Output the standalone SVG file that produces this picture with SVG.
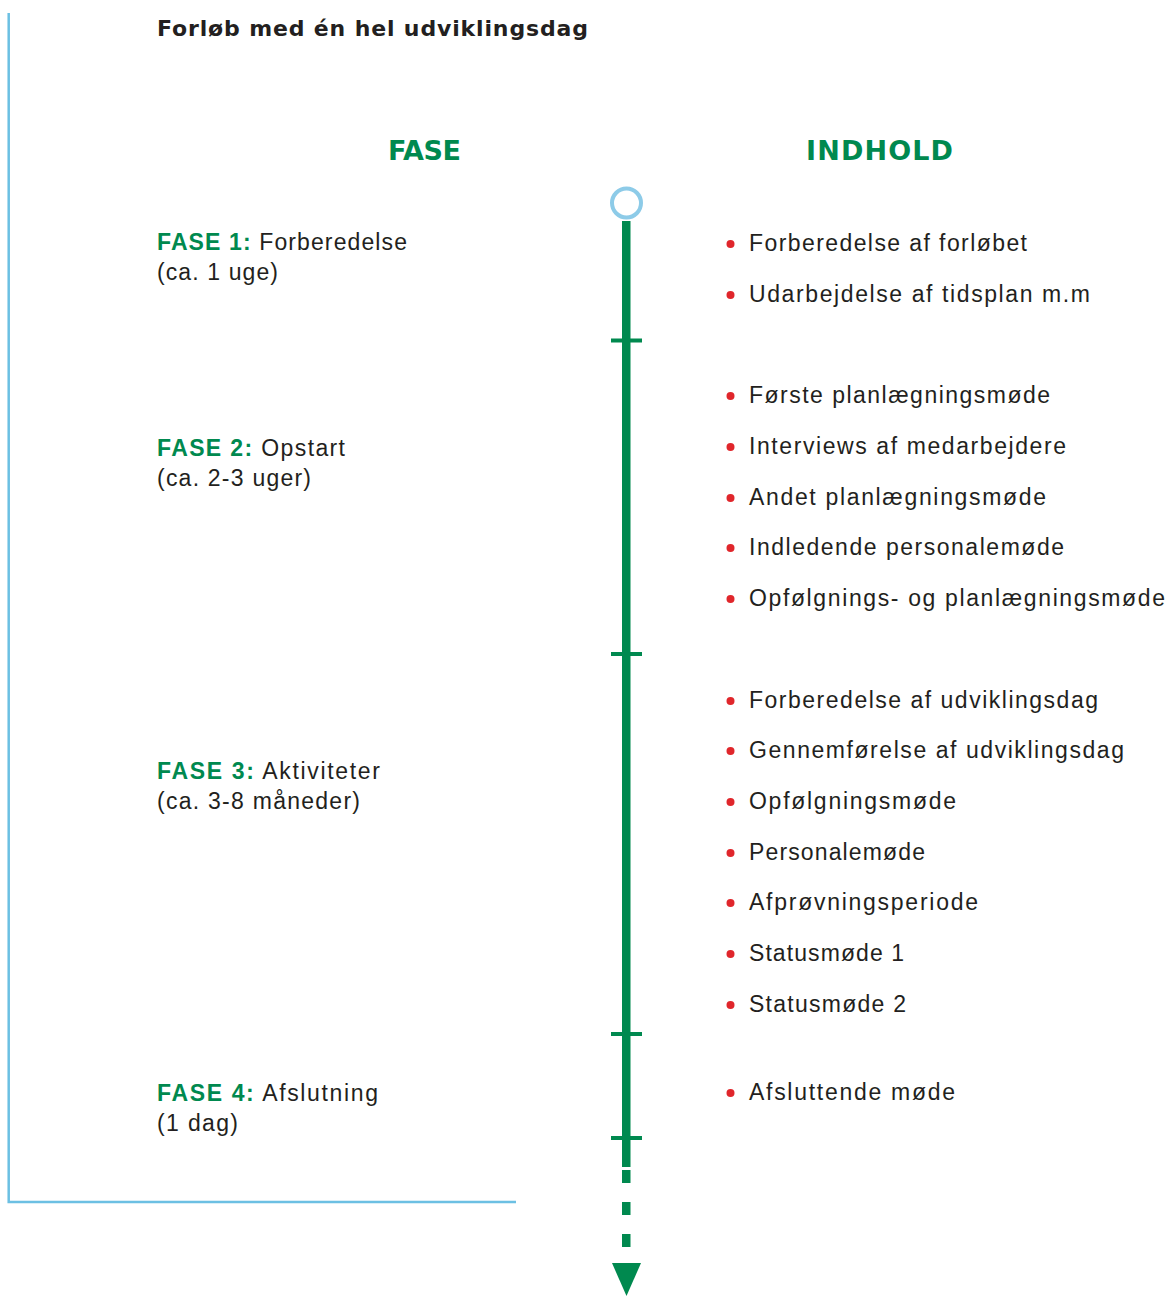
<svg xmlns="http://www.w3.org/2000/svg" width="1171" height="1296" viewBox="0 0 1171 1296">
<style>
.t{font-family:"Liberation Sans","Open Sans",sans-serif;font-size:23px;fill:#231F20}
.b{font-weight:bold;fill:#00894F}
.h{font-family:"DejaVu Sans","Liberation Sans",sans-serif;font-size:27px;font-weight:bold;fill:#00894F}
.ti{font-family:"DejaVu Sans","Liberation Sans",sans-serif;font-size:22px;font-weight:bold;fill:#231F20}
.dot{fill:#E0262B}
.g{fill:#00894F}
</style>
<rect width="1171" height="1296" fill="#ffffff"/>
<g id="frame">
<path d="M8.7 13 V1202 H516" fill="none" stroke="#6CC0E3" stroke-width="2.5"/>
</g>
<g id="title"><text class="ti" x="157" y="36" textLength="431">Forløb med én hel udviklingsdag</text></g>
<g id="headers">
<text class="h" x="388" y="160" textLength="73">FASE</text>
<text class="h" x="806" y="160" textLength="147">INDHOLD</text>
</g>
<g id="connectors">
<circle cx="626.5" cy="203" r="14.5" fill="none" stroke="#8DCBE8" stroke-width="4"/>
<rect class="g" x="622" y="221" width="8.5" height="946"/>
<rect class="g" x="611" y="338.5" width="31" height="4"/>
<rect class="g" x="611" y="652" width="31" height="4"/>
<rect class="g" x="611" y="1032" width="31" height="4"/>
<rect class="g" x="611" y="1136" width="31" height="4"/>
<rect class="g" x="622" y="1170" width="8.5" height="13"/>
<rect class="g" x="622" y="1202" width="8.5" height="13"/>
<rect class="g" x="622" y="1234" width="8.5" height="13"/>
<polygon class="g" points="612,1263 641,1263 626.5,1296"/>
</g>
<g id="fase1">
<text class="t" x="157" y="250" textLength="250"><tspan class="b">FASE 1:</tspan> Forberedelse</text>
<text class="t" x="157" y="280" textLength="121">(ca. 1 uge)</text>
</g>
<g id="fase2">
<text class="t" x="157" y="456" textLength="188"><tspan class="b">FASE 2:</tspan> Opstart</text>
<text class="t" x="157" y="486" textLength="154">(ca. 2-3 uger)</text>
</g>
<g id="fase3">
<text class="t" x="157" y="779" textLength="223"><tspan class="b">FASE 3:</tspan> Aktiviteter</text>
<text class="t" x="157" y="809" textLength="203">(ca. 3-8 måneder)</text>
</g>
<g id="fase4">
<text class="t" x="157" y="1101" textLength="221"><tspan class="b">FASE 4:</tspan> Afslutning</text>
<text class="t" x="157" y="1131" textLength="81">(1 dag)</text>
</g>
<g id="indhold1">
<circle class="dot" cx="730.5" cy="244" r="4"/><text class="t" x="749" y="251" textLength="278">Forberedelse af forløbet</text>
<circle class="dot" cx="730.5" cy="295" r="4"/><text class="t" x="749" y="302" textLength="341">Udarbejdelse af tidsplan m.m</text>
</g>
<g id="indhold2">
<circle class="dot" cx="730.5" cy="396" r="4"/><text class="t" x="749" y="403" textLength="301">Første planlægningsmøde</text>
<circle class="dot" cx="730.5" cy="447" r="4"/><text class="t" x="749" y="454" textLength="317">Interviews af medarbejdere</text>
<circle class="dot" cx="730.5" cy="498" r="4"/><text class="t" x="749" y="505" textLength="297">Andet planlægningsmøde</text>
<circle class="dot" cx="730.5" cy="548" r="4"/><text class="t" x="749" y="555" textLength="315">Indledende personalemøde</text>
<circle class="dot" cx="730.5" cy="599" r="4"/><text class="t" x="749" y="606" textLength="416">Opfølgnings- og planlægningsmøde</text>
</g>
<g id="indhold3">
<circle class="dot" cx="730.5" cy="701" r="4"/><text class="t" x="749" y="708" textLength="349">Forberedelse af udviklingsdag</text>
<circle class="dot" cx="730.5" cy="751" r="4"/><text class="t" x="749" y="758" textLength="375">Gennemførelse af udviklingsdag</text>
<circle class="dot" cx="730.5" cy="802" r="4"/><text class="t" x="749" y="809" textLength="207">Opfølgningsmøde</text>
<circle class="dot" cx="730.5" cy="853" r="4"/><text class="t" x="749" y="860" textLength="176">Personalemøde</text>
<circle class="dot" cx="730.5" cy="903" r="4"/><text class="t" x="749" y="910" textLength="229">Afprøvningsperiode</text>
<circle class="dot" cx="730.5" cy="954" r="4"/><text class="t" x="749" y="961" textLength="155">Statusmøde 1</text>
<circle class="dot" cx="730.5" cy="1005" r="4"/><text class="t" x="749" y="1012" textLength="157">Statusmøde 2</text>
</g>
<g id="indhold4">
<circle class="dot" cx="730.5" cy="1093" r="4"/><text class="t" x="749" y="1100" textLength="206">Afsluttende møde</text>
</g>
</svg>
